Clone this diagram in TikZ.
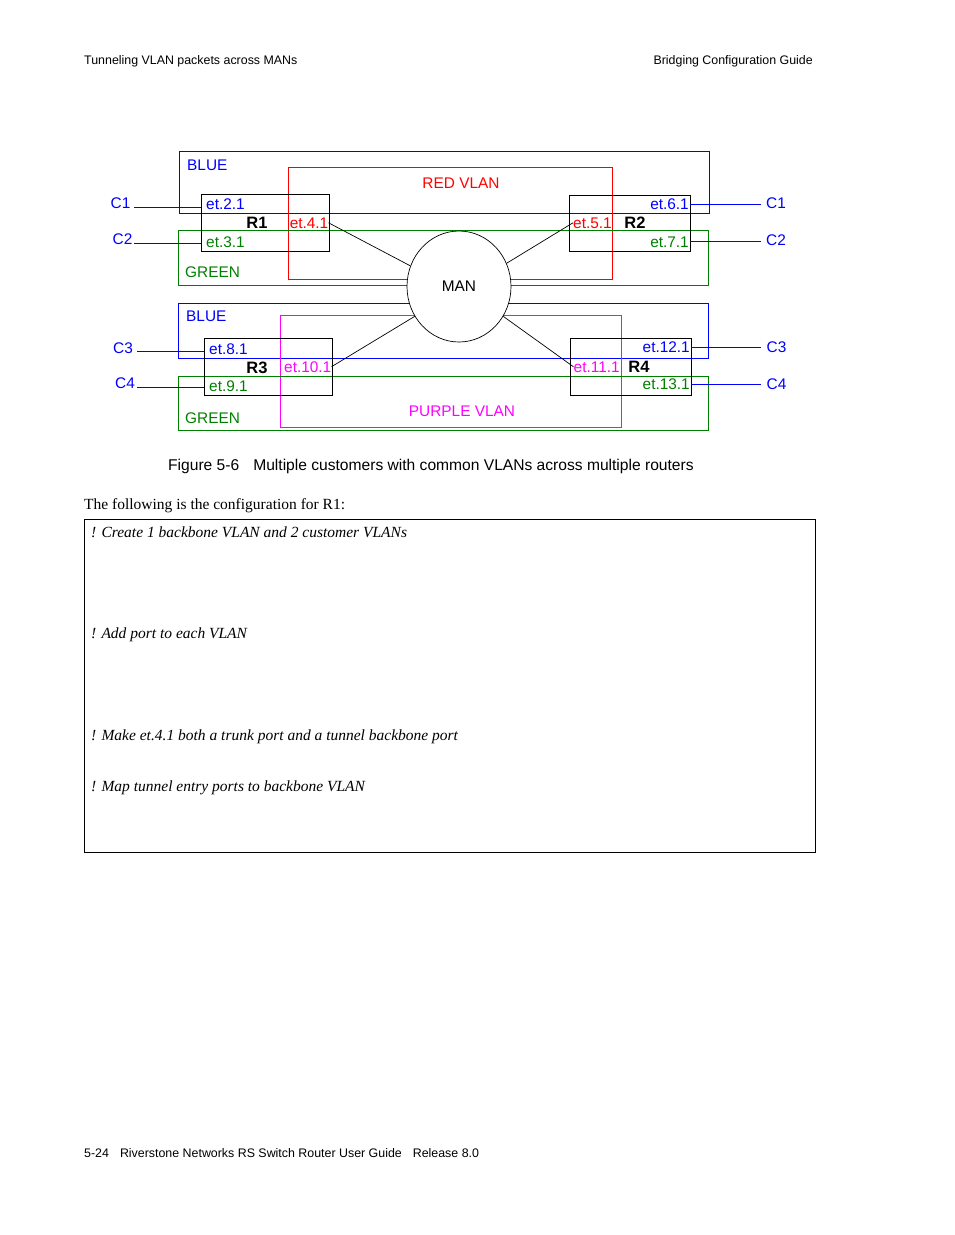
\documentclass[tikz,border=0pt]{standalone}
\usepackage{fontspec}
\setmainfont{Liberation Serif}
\newfontfamily\arialfont{Liberation Sans}
\usetikzlibrary{positioning,shapes.geometric}

\definecolor{vblue}{RGB}{0,0,255}
\definecolor{vgreen}{RGB}{0,128,0}
\definecolor{vred}{RGB}{255,0,0}
\definecolor{vpurple}{RGB}{255,0,255}

\tikzset{
    lbl/.style={inner sep=0pt, font=\arialfont\fontsize{15.4}{16}\selectfont},
    rname/.style={lbl, font=\arialfont\bfseries\fontsize{16.5}{17}\selectfont},
    vlanbox/.style={line width=1pt},
    routerbox/.style={draw=black, line width=1pt},
    cline/.style={vblue, line width=1pt},
    link/.style={black, line width=0.7pt},
    small/.style={inner sep=0pt, font=\arialfont\fontsize{12.4}{13}\selectfont},
    notes/.style={inner sep=0pt, font=\itshape\fontsize{15.5}{16}\selectfont}
}

\begin{document}
\begin{tikzpicture}[x=1pt, y=-1pt]
    \useasboundingbox[fill=white] (0,0) rectangle (954,1235);

    % header and footer
    \node[small, anchor=base west] (hleft) at (84,64) {Tunneling VLAN packets across MANs};
    \node[small, anchor=base east] (hright) at (813,64) {Bridging Configuration Guide};
    \node[small, anchor=base west] (foot) at (84,1157) {5-24\hspace{11pt}Riverstone Networks RS Switch Router User Guide\hspace{11pt}Release 8.0};

    % VLAN areas, top half
    \draw[vlanbox, vblue] (179,151) rectangle (709,213);
    \draw[vlanbox, vred] (288,167) rectangle (612,279);
    \draw[vlanbox, vgreen] (178,230) rectangle (708,285);
    \node[lbl, vblue, anchor=base west] (blue1) at (187,170) {BLUE};
    \node[lbl, vred, anchor=base] (redvlan) at (461,188) {RED VLAN};
    \node[lbl, vgreen, anchor=base west] (green1) at (185,277) {GREEN};

    % VLAN areas, bottom half
    \draw[vlanbox, vblue] (178,303) rectangle (708,358);
    \draw[vlanbox, vpurple] (280,315) rectangle (621,427);
    \draw[vlanbox, vgreen] (178,376) rectangle (708,430);
    \node[lbl, vblue, anchor=base west] (blue2) at (186,321) {BLUE};
    \node[lbl, vpurple, anchor=base] (purplevlan) at (462,416) {PURPLE VLAN};
    \node[lbl, vgreen, anchor=base west] (green2) at (185,423) {GREEN};

    % routers
    \draw[routerbox] (201,194) rectangle (329,251);
    \draw[routerbox] (569,195) rectangle (690,251);
    \draw[routerbox] (204,338) rectangle (332,395);
    \draw[routerbox] (570,338) rectangle (691,395);
    \coordinate (r1) at (201,194);
    \coordinate (r2) at (690,195);
    \coordinate (r3) at (204,338);
    \coordinate (r4) at (691,338);
    \node[rname, anchor=base] (r1name) at (257,228) {R1};
    \node[rname, anchor=base] (r2name) at (635,228) {R2};
    \node[rname, anchor=base] (r3name) at (257,373) {R3};
    \node[rname, anchor=base] (r4name) at (639,372) {R4};

    % ports
    \node[lbl, vblue, anchor=base west] (p21) at (206,209) {et.2.1};
    \node[lbl, vgreen, anchor=base west] (p31) at (206,247) {et.3.1};
    \node[lbl, vred, anchor=base east] (p41) at (328.5,228) {et.4.1};
    \node[lbl, vblue, anchor=base east] (p61) at (689,209) {et.6.1};
    \node[lbl, vred, anchor=base west] (p51) at (573,228) {et.5.1};
    \node[lbl, vgreen, anchor=base east] (p71) at (689,247) {et.7.1};
    \node[lbl, vblue, anchor=base west] (p81) at (209,354) {et.8.1};
    \node[lbl, vgreen, anchor=base west] (p91) at (209,391) {et.9.1};
    \node[lbl, vpurple, anchor=base east] (p101) at (331.5,372) {et.10.1};
    \node[lbl, vblue, anchor=base east] (p121) at (690,352) {et.12.1};
    \node[lbl, vpurple, anchor=base west] (p111) at (573.5,372) {et.11.1};
    \node[lbl, vgreen, anchor=base east] (p131) at (690,389) {et.13.1};

    % MAN cloud
    \node[draw, fill=white, ellipse, line width=0.7pt, minimum width=104pt, minimum height=111pt,
          lbl, inner sep=0pt] (man) at (459,286.5) {MAN};
    \draw[link] (p41.east) -- (man.157);
    \draw[link] (p51.west) -- (man.26);
    \draw[link] (p101.east) -- (man.214);
    \draw[link] (p111.west) -- (man.326);

    % customers
    \node[lbl, vblue, anchor=base west] (c1l) at (110.5,208) {C1};
    \node[lbl, vblue, anchor=base west] (c2l) at (112.5,244) {C2};
    \node[lbl, vblue, anchor=base west] (c3l) at (113,353) {C3};
    \node[lbl, vblue, anchor=base west] (c4l) at (115,388) {C4};
    \node[lbl, vblue, anchor=base west] (c1r) at (766,208) {C1};
    \node[lbl, vblue, anchor=base west] (c2r) at (766,245) {C2};
    \node[lbl, vblue, anchor=base west] (c3r) at (766.5,352) {C3};
    \node[lbl, vblue, anchor=base west] (c4r) at (766.5,389) {C4};
    \coordinate (c1a) at (134,207);
    \coordinate (c2a) at (134,243);
    \coordinate (c3a) at (137,351);
    \coordinate (c4a) at (137,387);
    \coordinate (c1b) at (761,204);
    \coordinate (c2b) at (761,241);
    \coordinate (c3b) at (761,347);
    \coordinate (c4b) at (761,384);
    \draw[cline] (c1a) -- (c1a -| r1);
    \draw[cline] (c2a) -- (c2a -| r1);
    \draw[cline] (c3a) -- (c3a -| r3);
    \draw[cline] (c4a) -- (c4a -| r3);
    \draw[cline] (c1b) -- (c1b -| r2);
    \draw[cline] (c2b) -- (c2b -| r2);
    \draw[cline] (c3b) -- (c3b -| r4);
    \draw[cline] (c4b) -- (c4b -| r4);

    % caption and text
    \node[lbl, font=\arialfont\fontsize{15.6}{16}\selectfont, anchor=base west] (caption) at (168,470) {Figure 5-6\hspace{14pt}Multiple customers with common VLANs across multiple routers};
    \node[inner sep=0pt, font=\fontsize{15.5}{16}\selectfont, anchor=base west] (intro) at (84,509) {The following is the configuration for R1:};
    \draw[line width=1pt] (84,519) rectangle (815,852);
    \node[notes, anchor=base west] (n1) at (91,537) {! Create 1 backbone VLAN and 2 customer VLANs};
    \node[notes, anchor=base west] (n2) at (91,638) {! Add port to each VLAN};
    \node[notes, anchor=base west] (n3) at (91,740) {! Make et.4.1 both a trunk port and a tunnel backbone port};
    \node[notes, anchor=base west] (n4) at (91,791) {! Map tunnel entry ports to backbone VLAN};
\end{tikzpicture}
\end{document}
